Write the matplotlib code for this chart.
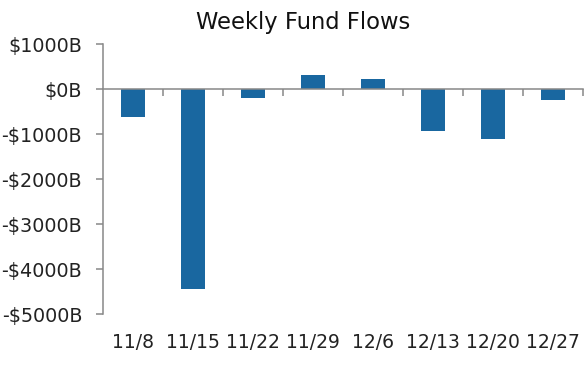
import matplotlib
matplotlib.use("Agg")
import matplotlib.pyplot as plt
import numpy as np

weeks = ["11/8", "11/15", "11/22", "11/29", "12/6", "12/13", "12/20", "12/27"]
flows = [-620, -4450, -195, 310, 222, -926, -1100, -240]
yticks = [1000, 0, -1000, -2000, -3000, -4000, -5000]
ytick_labels = ["$1000B", "$0B", "-$1000B", "-$2000B", "-$3000B", "-$4000B", "-$5000B"]

plt.rcParams['font.family'] = ['DejaVu Sans']
gray = "#888888"
txt = "#222222"

fig = plt.figure(figsize=(5.88, 3.76), dpi=100)
ax = fig.add_axes([103/588, 1-314/376, 480/588, 270/376])

x = np.arange(len(weeks))
ax.bar(x, flows, width=0.4, color="#1967a0")
ax.set_xlim(-0.5, len(weeks) - 0.5)
ax.set_ylim(-5000, 1000)

ax.set_yticks(yticks)
ax.set_yticklabels(ytick_labels)
ax.tick_params(axis='y', direction='out', length=5, width=1.1, color=gray, pad=10,
               labelsize=13.8, labelcolor=txt)

ax.set_xticks(x)
ax.set_xticklabels(weeks)
ax.tick_params(axis='x', which='major', length=0, pad=14, labelsize=13.5, labelcolor=txt)

ax.set_xticks(np.arange(0.5, len(weeks)), minor=True)
ax.tick_params(axis='x', which='minor', bottom=False, top=True, direction='in',
               length=5, width=1.1, color=gray)

ax.spines['bottom'].set_visible(False)
ax.spines['right'].set_visible(False)
ax.spines['top'].set_position(('data', 0))
ax.spines['top'].set_color(gray)
ax.spines['top'].set_linewidth(1.1)
ax.spines['left'].set_color(gray)
ax.spines['left'].set_linewidth(1.1)

fig.text(0.515, 1-22/376, "Weekly Fund Flows", ha='center', va='center', fontsize=16.3, color="#111111")

fig.savefig("out.png", dpi=100)
